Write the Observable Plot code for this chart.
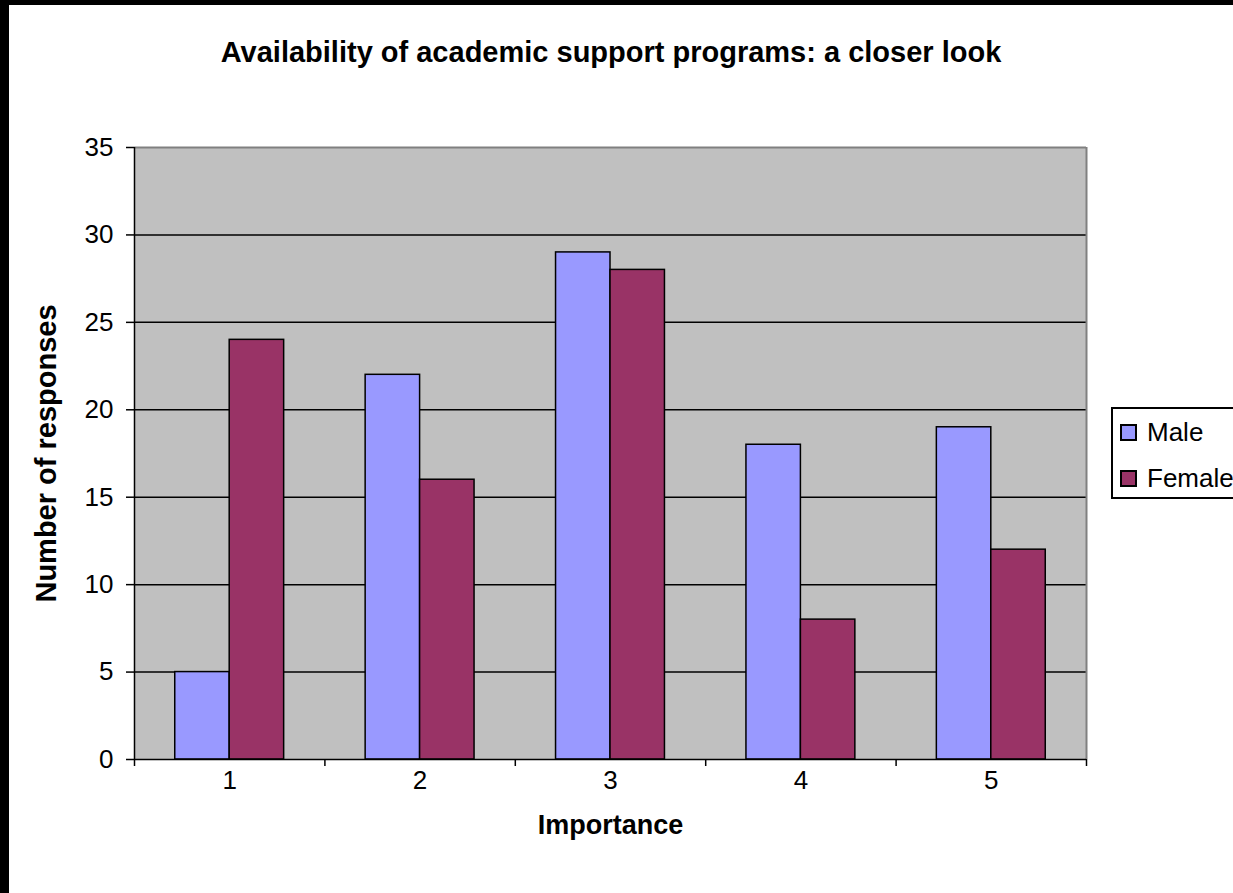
<!DOCTYPE html>
<html>
<head>
<meta charset="utf-8">
<script src="https://cdn.jsdelivr.net/npm/d3@7"></script>
<script src="https://cdn.jsdelivr.net/npm/@observablehq/plot@0.6"></script>
<style>
  html, body { margin: 0; padding: 0; background: #000; width: 1233px; height: 893px; overflow: hidden; }
  #page { position: absolute; left: 9px; top: 5px; width: 1224px; height: 888px; background: #fff; overflow: hidden;
          font-family: "Liberation Sans", Arial, sans-serif; color: #000; }
  #title { position: absolute; left: 0; width: 1204px; top: 30px; text-align: center; font-weight: bold; font-size: 29px; line-height: 34px; }
  #chart { position: absolute; left: 0; top: 0; }
  #legend { position: absolute; left: 1102px; top: 402px; width: 160px; height: 88px; border: 2px solid #000; background: #fff; }
  .item { position: absolute; left: 7px; height: 30px; display: flex; align-items: center; font-size: 26px; }
  .swatch { width: 13px; height: 13px; border: 2px solid #000; margin-right: 10px; }
</style>
</head>
<body>
<div id="page">
  <div id="chart"></div>
  <div id="title">Availability of academic support programs: a closer look</div>
  <div id="legend"></div>
</div>
<script>
const categories = [1, 2, 3, 4, 5];
const maleValues = [5, 22, 29, 18, 19];
const femaleValues = [24, 16, 28, 8, 12];
const seriesNames = ["Male", "Female"];
const seriesColors = ["#9999ff", "#993366"];
const yTicks = [0, 5, 10, 15, 20, 25, 30, 35];
const xTitle = "Importance";
const yTitle = "Number of responses";

const barW = 0.286; // bar width as a fraction of a category band
const rows = categories.flatMap((c, i) => [
  {cat: c, series: seriesNames[0], value: maleValues[i], k: 0},
  {cat: c, series: seriesNames[1], value: femaleValues[i], k: 1}
]);
const bounds = categories.map(c => c - 0.5).concat([categories[categories.length - 1] + 0.5]);
const yMax = yTicks[yTicks.length - 1];
const grid = yTicks.filter(t => t > 0 && t < yMax);

const chart = Plot.plot({
  width: 1224,
  height: 888,
  marginLeft: 125,
  marginRight: 147,
  marginTop: 142,
  marginBottom: 134,
  style: {fontFamily: "'Liberation Sans', Arial, sans-serif", fontSize: "26px", color: "#000", background: "transparent", overflow: "visible"},
  x: {domain: [bounds[0], bounds[bounds.length - 1]]},
  y: {domain: [0, yMax]},
  color: {domain: seriesNames, range: seriesColors},
  marks: [
    Plot.frame({fill: "#c0c0c0"}),
    Plot.ruleY(grid, {stroke: "#000", strokeWidth: 1.5}),
    Plot.ruleY([yMax], {stroke: "#808080", strokeWidth: 2}),
    Plot.ruleX([bounds[bounds.length - 1]], {stroke: "#808080", strokeWidth: 2}),
    Plot.rectY(rows, {
      x1: d => d.cat + (d.k - 1) * barW,
      x2: d => d.cat + d.k * barW,
      y: "value",
      fill: "series",
      stroke: "#000",
      strokeWidth: 1.5
    }),
    Plot.ruleX([bounds[0]], {stroke: "#000", strokeWidth: 1.5}),
    Plot.ruleY([0], {stroke: "#000", strokeWidth: 1.5}),
    Plot.axisY({ticks: yTicks, tickSize: 8, tickPadding: 13, tickFormat: d => String(d), label: null, strokeWidth: 1.5, fontSize: 26}),
    Plot.axisX({ticks: bounds, tickSize: 7, tickFormat: () => "", label: null, strokeWidth: 1.5}),
    Plot.axisX({ticks: categories, tickSize: 0, tickPadding: 11, tickFormat: d => String(d), label: null, fontSize: 26}),
    Plot.text([xTitle], {frameAnchor: "bottom", lineAnchor: "middle", textAnchor: "middle", dy: 66, fontWeight: "bold", fontSize: 27}),
    Plot.text([yTitle], {frameAnchor: "left", lineAnchor: "middle", textAnchor: "middle", rotate: -90, dx: -88, fontWeight: "bold", fontSize: 29})
  ]
});
document.getElementById("chart").appendChild(chart);

const legend = document.getElementById("legend");
seriesNames.forEach((name, i) => {
  const item = document.createElement("div");
  item.className = "item";
  item.style.top = (8 + i * 46) + "px";
  const sw = document.createElement("div");
  sw.className = "swatch";
  sw.style.background = seriesColors[i];
  const label = document.createElement("span");
  label.textContent = name;
  item.appendChild(sw);
  item.appendChild(label);
  legend.appendChild(item);
});
</script>
</body>
</html>
